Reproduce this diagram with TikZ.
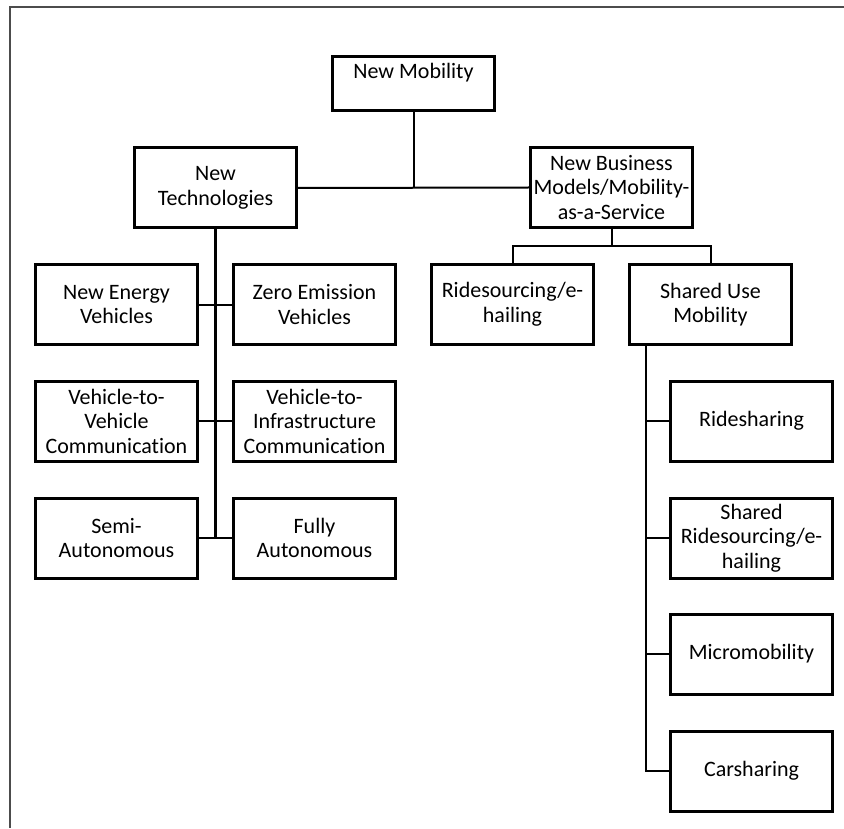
\documentclass[tikz,border=0pt]{standalone}
\usepackage{fontspec}
\setmainfont[Ligatures=NoCommon]{Carlito}
\begin{document}
\begin{tikzpicture}[x=0.5pt,y=-0.5pt,
  box/.style={draw=black,line width=1.5pt,fill=white,minimum width=81pt,minimum height=40pt,inner sep=0pt,align=center,font=\fontsize{11}{12.25}\selectfont},
  conn/.style={line width=1pt,black},
  trunk/.style={line width=1.4pt,black}]
\useasboundingbox (0,0) rectangle (844,828);
\draw[line width=1pt,black!70] (844,7) -- (10,7) -- (10,828);

\node[box,minimum width=80.75pt,minimum height=27pt] (nm) at (413.5,83.5) {New Mobility\\\mbox{}};
\node[box] (nt) at (215.5,188) {New\\Technologies};
\node[box] (nb) at (611.5,187.5) {New Business\\Models/Mobility-\\as-a-Service};
\node[box] (rs) at (512.5,304.5) {Ridesourcing/e-\\hailing};
\node[box] (su) at (710.5,304.5) {Shared Use\\Mobility};

\node[box] (nev) at (116.5,304.5) {New Energy\\Vehicles};
\node[box] (zev) at (314.5,304.5) {Zero Emission\\Vehicles};
\node[box] (v2v) at (116.5,421) {Vehicle-to-\\Vehicle\\Communication};
\node[box] (v2i) at (314.5,421) {Vehicle-to-\\Infrastructure\\Communication};
\node[box] (semi) at (116.5,538) {Semi-\\Autonomous};
\node[box] (fully) at (314.5,538) {Fully\\Autonomous};

\node[box] (ride) at (751.5,421) {Ridesharing};
\node[box] (srs) at (751.5,538) {Shared\\Ridesourcing/e-\\hailing};
\node[box] (micro) at (751.5,654) {Micromobility};
\node[box] (car) at (751.5,771) {Carsharing};

% top level
\draw[conn] (nt.east) -- (nb.west);
\draw[conn] (nm.south) -- (nm.south |- nt.east);
% business models
\coordinate (bus) at (612,246);
\draw[conn] (nb.south) -- (nb.south |- bus);
\draw[conn] (rs.north) |- (bus) -| (su.north);
% technologies
\draw[trunk] (nt.south) -- (nt.south |- semi.east);
\draw[conn] (nev.east) -- (zev.west);
\draw[conn] (v2v.east) -- (v2i.west);
\draw[conn] (semi.east) -- (fully.west);
% shared use
\coordinate (sut) at (646,346);
\draw[conn] (sut) |- (car.west);
\draw[conn] (ride.west) -- (ride.west -| sut);
\draw[conn] (srs.west) -- (srs.west -| sut);
\draw[conn] (micro.west) -- (micro.west -| sut);
\end{tikzpicture}
\end{document}
